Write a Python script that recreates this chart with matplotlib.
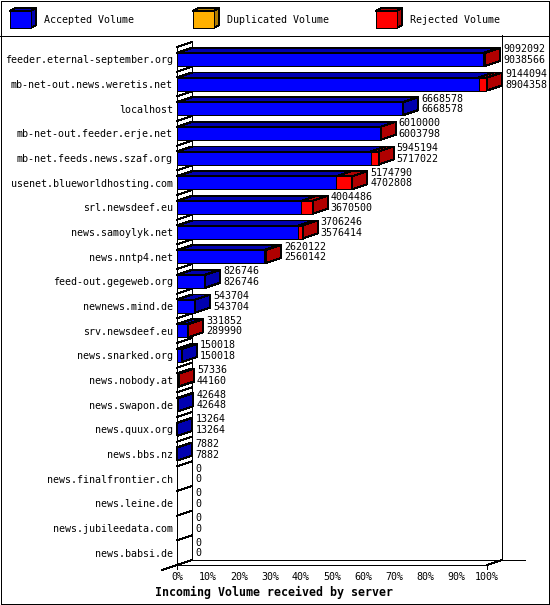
import matplotlib
matplotlib.use("Agg")
import matplotlib.pyplot as plt
from matplotlib.patches import Polygon, Rectangle

# Daten
servers = [
    "feeder.eternal-september.org", "mb-net-out.news.weretis.net", "localhost",
    "mb-net-out.feeder.erje.net", "mb-net.feeds.news.szaf.org",
    "usenet.blueworldhosting.com", "srl.newsdeef.eu", "news.samoylyk.net",
    "news.nntp4.net", "feed-out.gegeweb.org", "newnews.mind.de",
    "srv.newsdeef.eu", "news.snarked.org", "news.nobody.at", "news.swapon.de",
    "news.quux.org", "news.bbs.nz", "news.finalfrontier.ch", "news.leine.de",
    "news.jubileedata.com", "news.babsi.de",
]
offered = [9092092, 9144094, 6668578, 6010000, 5945194, 5174790, 4004486,
           3706246, 2620122, 826746, 543704, 331852, 150018, 57336, 42648,
           13264, 7882, 0, 0, 0, 0]
accepted = [9038566, 8904358, 6668578, 6003798, 5717022, 4702808, 3670500,
            3576414, 2560142, 826746, 543704, 289990, 150018, 44160, 42648,
            13264, 7882, 0, 0, 0, 0]
duplicated = [0, 0, 0, 0, 0, 0, 0, 0, 0, 0, 0, 0, 0, 0, 0, 0, 0, 0, 0, 0, 0]
rejected = [o - a - d for o, a, d in zip(offered, accepted, duplicated)]

xticks = list(range(0, 101, 10))
xtick_labels = [f"{v}%" for v in xticks]
legend_names = ["Accepted Volume", "Duplicated Volume", "Rejected Volume"]

BLUE, BLUE_D = "#0000ff", "#0000b0"
ORANGE, ORANGE_D = "#ffb000", "#b07c00"
RED, RED_D = "#ff0000", "#b00000"
colors = [(BLUE, BLUE_D), (ORANGE, ORANGE_D), (RED, RED_D)]

# scharfe Linien wie im GD-Bild
plt.rcParams["lines.antialiased"] = False
plt.rcParams["patch.antialiased"] = False

FONT = "DejaVu Sans Mono"
LW = 0.72
W, H = 550, 605

fig = plt.figure(figsize=(W / 100, H / 100), dpi=100)
fig.patch.set_facecolor("white")

# Hintergrund: Rahmen, Trennlinie, Legende (Pixelkoordinaten)
bg = fig.add_axes([0, 0, 1, 1], zorder=0)
bg.set_xlim(0, W)
bg.set_ylim(H, 0)
bg.axis("off")
frame = [(0.5, 0.5), (W - 0.6, 0.5), (W - 0.6, H - 0.6), (0.5, H - 0.6), (0.5, 0.5)]
bg.plot([p[0] for p in frame], [p[1] for p in frame], color="black", lw=LW)
bg.plot([0, W], [35.5, 35.5], color="black", lw=LW)

for i, name in enumerate(legend_names):
    fc, sc = colors[i]
    x0, y0, bw, bh, d, e = 10 + i * 183, 11, 21, 17, 5, 3
    bg.add_patch(Polygon([(x0, y0), (x0 + bw, y0), (x0 + bw + d, y0 - e), (x0 + d, y0 - e)],
                         closed=True, fc=sc, ec="black", lw=LW))
    bg.add_patch(Polygon([(x0 + bw, y0), (x0 + bw, y0 + bh), (x0 + bw + d, y0 + bh - e),
                          (x0 + bw + d, y0 - e)], closed=True, fc=sc, ec="black", lw=LW))
    bg.add_patch(Rectangle((x0, y0), bw, bh, fc=fc, ec="black", lw=LW))
    bg.text(x0 + 34, 20, name, family=FONT, fontsize=7.2, va="center", ha="left")

# Diagramm
n = len(servers)
ax = fig.add_axes([177 / W, (H - 565) / H, 310 / W, 518 / H], zorder=1)
ax.patch.set_visible(False)
ax.set_xlim(0, 100)
ax.set_ylim(n - 0.5, -0.5)
for s in ax.spines.values():
    s.set_visible(False)

px_x = 310 / 100.0
px_y = 518 / n
dx = 15 / px_x
dy = 5 / px_y
bar_h = 13 / px_y

vmax = max(offered)
acc_pct = [v / vmax * 100 for v in accepted]
dup_pct = [v / vmax * 100 for v in duplicated]
rej_pct = [v / vmax * 100 for v in rejected]

# Waende
line_kw = dict(color="black", lw=LW, clip_on=False, zorder=1)
for k in range(n + 1):
    yb = k - 0.5
    ax.plot([0, dx], [yb, yb - dy], **line_kw)
ax.plot([0, 0], [-0.5, n - 0.5 + 3.5 / px_y], **line_kw)
ax.plot([dx, dx], [-0.5 - dy, n - 0.5 - dy], **line_kw)
ax.plot([100 + dx, 100 + dx], [-0.5 - 12 / px_y, n - 0.5 - dy], **line_kw)
ax.plot([0, 100], [n - 0.5, n - 0.5], **line_kw)
ax.plot([dx, 100 + dx + 23 / px_x], [n - 0.5 - dy, n - 0.5 - dy], **line_kw)
ax.plot([100, 100 + dx], [n - 0.5, n - 0.5 - dy], **line_kw)
ax.plot([-dx, dx], [n - 0.5 + dy, n - 0.5 - dy], **line_kw)
ax.plot([100, 100], [n - 0.5, n - 0.5 + 3.5 / px_y], **line_kw)

# Balken
for i in range(n):
    segs = [(acc_pct[i], colors[0]), (dup_pct[i], colors[1]), (rej_pct[i], colors[2])]
    left = 0.0
    top = i - bar_h / 2
    bot = i + bar_h / 2
    last = None
    for width, (fc, sc) in segs:
        if width <= 0:
            continue
        ax.barh(i, width, left=left, height=bar_h, color=fc, edgecolor="black",
                lw=LW, zorder=3)
        ax.add_patch(Polygon([(left, top), (left + width, top), (left + width + dx, top - dy),
                              (left + dx, top - dy)], closed=True, fc=sc, ec="black",
                             lw=LW, zorder=3, clip_on=False))
        left += width
        last = sc
    if last is not None:
        ax.add_patch(Polygon([(left, top), (left, bot), (left + dx, bot - dy),
                              (left + dx, top - dy)], closed=True, fc=last, ec="black",
                             lw=LW, zorder=3, clip_on=False))
    tx = left + dx + 3 / px_x
    yc = i - dy
    ax.text(tx, yc - 5 / px_y, str(offered[i]), family=FONT, fontsize=7.2,
            va="center", ha="left", zorder=4, clip_on=False,
            bbox=dict(fc="white", ec="none", pad=0))
    ax.text(tx, yc + 5.5 / px_y, str(accepted[i]), family=FONT, fontsize=7.2,
            va="center", ha="left", zorder=4, clip_on=False,
            bbox=dict(fc="white", ec="none", pad=0))

ax.set_yticks(range(n))
ax.set_yticklabels(servers, family=FONT, fontsize=7.2)
ax.set_xticks(xticks)
ax.set_xticklabels(xtick_labels, family=FONT, fontsize=7.2)
ax.tick_params(axis="y", length=0, pad=3)
ax.tick_params(axis="x", length=0, pad=5)

fig.text(155 / W, 1 - 592 / H, "Incoming Volume received by server", family=FONT,
         fontsize=8.4, fontweight="bold", ha="left", va="center")

fig.savefig("out.png", dpi=100, facecolor="white")
